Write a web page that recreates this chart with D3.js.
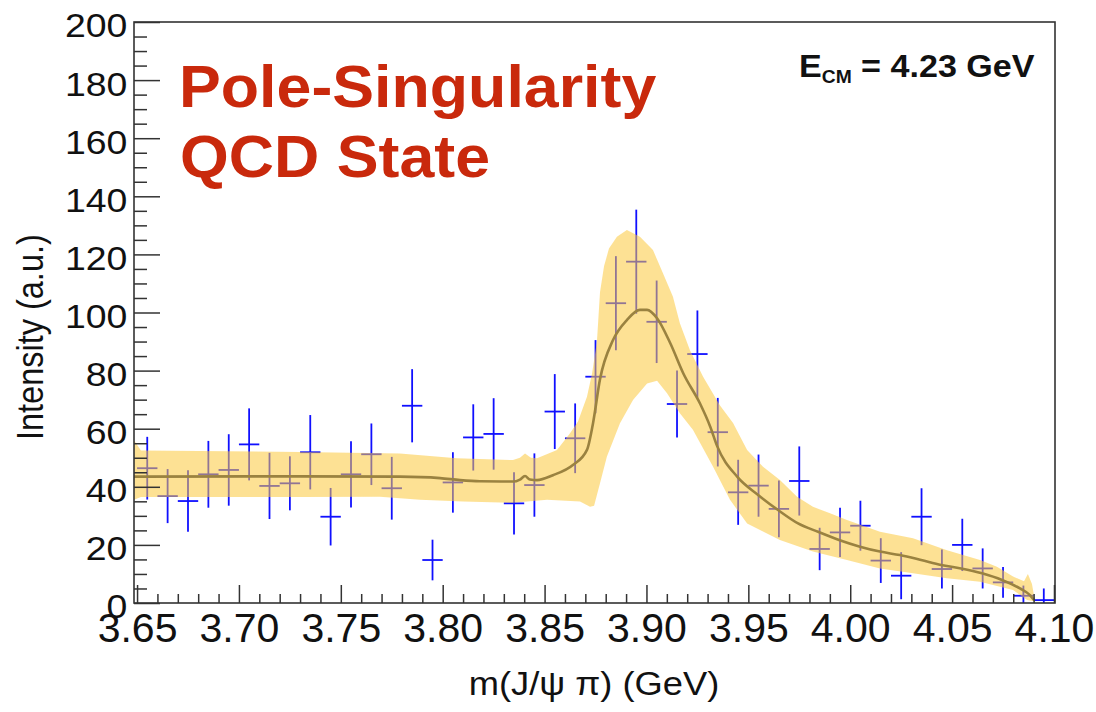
<!DOCTYPE html>
<html>
<head>
<meta charset="utf-8">
<script src="https://cdn.jsdelivr.net/npm/d3@7"></script>
<style>
body{margin:0;background:#fff;}
text{font-family:"Liberation Sans",Arial,Helvetica,sans-serif;}
</style>
</head>
<body>
<div id="canvas"></div>
<script>
// measured bins (GeV) with intensity and error
var massBins = [3.655,3.665,3.675,3.685,3.695,3.705,3.715,3.725,3.735,3.745,
    3.755,3.765,3.775,3.785,3.795,3.805,3.815,3.825,3.835,3.845,
    3.855,3.865,3.875,3.885,3.895,3.905,3.915,3.925,3.935,3.945,
    3.955,3.965,3.975,3.985,3.995,4.005,4.015,4.025,4.035,4.045,
    4.055,4.065,4.075,4.085,4.095];
var counts = [46.4,36.8,35.1,44.3,45.8,54.6,40.3,41.2,51.9,29.7,
    44.3,51.2,39.5,67.9,14.8,41.5,57.0,58.2,34.3,40.6,
    65.9,56.7,77.9,103.2,117.5,96.8,68.5,85.7,58.8,38.1,
    40.4,32.4,42.0,18.6,24.3,26.6,14.6,9.4,29.7,11.7,
    20.0,11.9,7.1,2.5,1.0];
var countErrs = [10.8,9.3,10.6,11.5,12.3,12.4,11.4,9.3,12.8,9.9,
    11.4,10.6,10.8,12.6,7.0,10.4,11.4,12.3,10.7,10.9,
    12.9,12.0,12.6,16.2,17.9,14.2,11.5,15.0,11.8,11.2,
    10.7,9.8,11.9,7.3,8.5,8.6,7.7,8.1,9.8,6.7,
    9.0,6.9,5.3,3.5,4.0];

// fitted pole-singularity curve
var fitMass = [3.6485,3.7300,3.7790,3.7987,3.8085,3.8183,3.8345,3.8379,3.8404,3.8428,
    3.8463,3.8541,3.8639,3.8708,3.8738,3.8772,3.8836,3.8904,3.8968,3.9003,
    3.9052,3.9117,3.9181,3.9264,3.9313,3.9347,3.9445,3.9548,3.9646,3.9744,
    3.9842,3.9945,4.0048,4.0146,4.0244,4.0348,4.0446,4.0544,4.0647,4.0745,
    4.0833,4.0882,4.0902];
var fitVals = [43.5,43.6,43.5,43.0,42.3,41.9,41.8,42.5,43.7,42.5,
    42.3,44.0,47.5,52.7,62.0,77.0,90.5,97.4,100.9,100.9,
    98.0,89.4,79.0,68.5,60.7,54.0,43.5,37.2,32.0,27.4,
    24.5,21.7,19.4,17.7,16.5,14.8,13.1,11.9,10.2,7.9,
    5.0,2.7,1.0];

// uncertainty band edges
var bandUpMass = [3.6485,3.6519,3.7300,3.7790,3.8070,3.8345,3.8379,3.8404,3.8433,3.8463,
    3.8561,3.8625,3.8664,3.8708,3.8733,3.8757,3.8772,3.8792,3.8816,3.8855,
    3.8904,3.8968,3.9032,3.9081,3.9130,3.9164,3.9213,3.9278,3.9361,3.9425,
    3.9494,3.9572,3.9655,3.9739,3.9817,3.9901,3.9984,4.0146,4.0308,4.0475,
    4.0637,4.0720,4.0799,4.0853,4.0872,4.0892,4.0907];
var bandUpVals = [56,52.5,52.0,51.5,49.8,49.2,50.0,51.5,50.0,49.8,
    52.7,58.4,62.5,71.0,79.0,90.0,107.0,116.0,122.0,126.1,
    128.4,126.1,121.5,113.5,105.4,96.3,87.1,77.9,68.0,62.0,
    52.7,46.9,42.3,36.6,33.1,30.9,28.6,24.5,22.3,18.2,
    14.8,12.5,9.1,7.5,10.0,6.5,0.5];
var bandLoMass = [3.6485,3.6519,3.7300,3.7692,3.7889,3.8100,3.8345,3.8512,3.8674,3.8723,
    3.8743,3.8772,3.8806,3.8870,3.8934,3.9003,3.9052,3.9101,3.9164,3.9228,
    3.9327,3.9410,3.9494,3.9655,3.9817,3.9984,4.0146,4.0308,4.0475,4.0637,
    4.0799,4.0868,4.0907];
var bandLoVals = [35.5,36.5,36.5,36.6,35.5,34.9,34.5,35.5,34.9,33.1,
    33.5,41.2,50.4,61.9,69.9,75.6,76.5,72.2,65.3,59.6,
    46.9,35.5,27.4,21.7,17.7,14.8,11.9,10.2,8.5,7.3,
    4.5,1.0,0.5];

var xTicks = [3.65,3.70,3.75,3.80,3.85,3.90,3.95,4.00,4.05,4.10];
var yTicks = [0,20,40,60,80,100,120,140,160,180,200];

var W = 1096, H = 712;
var frame = {l:134, r:1055, t:22, b:603};

var svg = d3.select('#canvas')
    .append('svg')
    .attr('width', W)
    .attr('height', H);

var x = d3.scaleLinear().domain([3.6485, 4.1005]).range([frame.l, frame.r]);
var y = d3.scaleLinear().domain([0, 200]).range([frame.b, frame.t]);

svg.append('clipPath').attr('id','frameClip')
    .append('rect')
    .attr('x', frame.l).attr('y', frame.t)
    .attr('width', frame.r-frame.l).attr('height', frame.b-frame.t);

var plot = svg.append('g').attr('clip-path','url(#frameClip)');

//data points with error bars
var pts = massBins.map(function(m,i){ return {m:m, v:counts[i], e:countErrs[i]}; });
var bars = plot.selectAll('.pt')
    .data(pts)
    .enter()
    .append('g').attr('class','pt')
    .style('stroke','#1010ff')
    .style('stroke-width',1.8);
bars.append('line')
    .attr('x1',function(d){return x(d.m)}).attr('x2',function(d){return x(d.m)})
    .attr('y1',function(d){return y(d.v+d.e)})
    .attr('y2',function(d){return y(Math.max(0,d.v-d.e))});
bars.append('line')
    .attr('x1',function(d){return x(d.m-0.005)}).attr('x2',function(d){return x(d.m+0.005)})
    .attr('y1',function(d){return y(d.v)}).attr('y2',function(d){return y(d.v)});

//band
var upper = bandUpMass.map(function(m,i){return [x(m), y(bandUpVals[i])]});
var lower = bandLoMass.map(function(m,i){return [x(m), y(bandLoVals[i])]}).reverse();
plot.append('path')
    .attr('d', d3.line()(upper.concat(lower)) + 'Z')
    .style('fill','rgb(252,200,60)')
    .style('fill-opacity',0.55)
    .style('stroke','none');

//fit curve
plot.append('path')
    .datum(fitMass.map(function(m,i){return [m, fitVals[i]]}))
    .attr('d', d3.line()
        .x(function(d){return x(d[0])})
        .y(function(d){return y(d[1])})
        .curve(d3.curveMonotoneX))
    .style('fill','none')
    .style('stroke','#9a8240')
    .style('stroke-width',2.6);

//axes
var tickCol = '#333';
var xAxis = svg.append('g').attr('transform','translate(0,'+frame.b+')')
    .call(d3.axisBottom(x).tickValues(xTicks).tickSize(-18).tickPadding(10)
        .tickFormat(d3.format('.2f')));
var xMinor = svg.append('g').attr('transform','translate(0,'+frame.b+')')
    .call(d3.axisBottom(x).tickValues(d3.range(366,410).filter(function(k){return k%5 !== 0})
        .map(function(k){return k/100}))
        .tickSize(-9).tickFormat(''));
var yAxis = svg.append('g').attr('transform','translate('+frame.l+',0)')
    .call(d3.axisLeft(y).tickValues(yTicks).tickSize(-26).tickPadding(6));
var yMinor = svg.append('g').attr('transform','translate('+frame.l+',0)')
    .call(d3.axisLeft(y).tickValues(d3.range(5,200,5).filter(function(v){return v%20 !== 0}))
        .tickSize(-13).tickFormat(''));

svg.selectAll('.domain').remove();
svg.selectAll('.tick line').style('stroke',tickCol).style('stroke-width',1.5);
xAxis.selectAll('text').style('font-size','41px').style('fill','#111');
yAxis.selectAll('text').style('font-size','34px').style('fill','#111')
    .attr('dy','0.44em').attr('transform','scale(1.1,1)');

//frame
svg.append('rect')
    .attr('x', frame.l).attr('y', frame.t)
    .attr('width', frame.r-frame.l).attr('height', frame.b-frame.t)
    .style('fill','none').style('stroke','#333').style('stroke-width',1.6);

//axis titles
svg.append('g').attr('transform','translate(594,695) scale(1.1,1)')
    .append('text').attr('text-anchor','middle')
    .style('font-size','33px').style('fill','#111')
    .text('m(J/\u03c8 \u03c0) (GeV)');
svg.append('g').attr('transform','translate(43,440) scale(1.13,1) rotate(-90)')
    .append('text')
    .style('font-size','32.5px').style('fill','#111')
    .text('Intensity (a.u.)');

//title
var title = svg.append('g').attr('transform','translate(179,107) scale(1.045,1)')
    .append('text')
    .style('font-size','60px').style('font-weight','bold').style('fill','#c9290c');
title.append('tspan').attr('x',0).attr('y',0).text('Pole-Singularity');
title.append('tspan').attr('x',1).attr('y',70).text('QCD State');

//energy label
var ecm = svg.append('g').attr('transform','translate(799,77) scale(1.1,1)')
    .append('text')
    .style('font-size','31px').style('font-weight','bold').style('fill','#111');
ecm.append('tspan').text('E');
ecm.append('tspan').attr('dy',6).style('font-size','17.5px').text('CM');
ecm.append('tspan').attr('dy',-6).text(' = 4.23 GeV');
</script>
</body>
</html>
